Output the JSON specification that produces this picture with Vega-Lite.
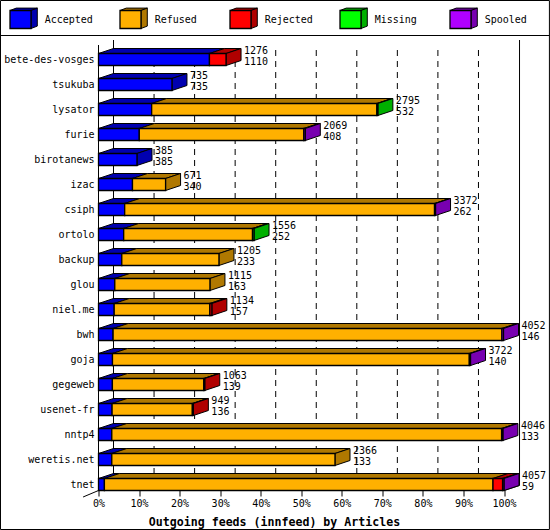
{
"$schema":"https://vega.github.io/schema/vega-lite/v6.json",
"width":405.5,"height":450,
"autosize":{"type":"none"},
"padding":{"left":98.5,"top":40,"right":46,"bottom":40},
"background":"white",
"config":{"view":{"stroke":null},"text":{"font":"DejaVu Sans Mono","fontSize":10,"color":"black"}},
"resolve":{"axis":{"x":"independent","y":"independent"}},
"datasets":{
"feeds":[
{"host":"bete-des-vosges","row":0,"total":1276,"Accepted":1110,"Refused":0,"Rejected":166,"Missing":0,"Spooled":0},
{"host":"tsukuba","row":1,"total":735,"Accepted":735,"Refused":0,"Rejected":0,"Missing":0,"Spooled":0},
{"host":"lysator","row":2,"total":2795,"Accepted":532,"Refused":2253,"Rejected":0,"Missing":10,"Spooled":0},
{"host":"furie","row":3,"total":2069,"Accepted":408,"Refused":1646,"Rejected":0,"Missing":0,"Spooled":15},
{"host":"birotanews","row":4,"total":385,"Accepted":385,"Refused":0,"Rejected":0,"Missing":0,"Spooled":0},
{"host":"izac","row":5,"total":671,"Accepted":340,"Refused":331,"Rejected":0,"Missing":0,"Spooled":0},
{"host":"csiph","row":6,"total":3372,"Accepted":262,"Refused":3100,"Rejected":0,"Missing":0,"Spooled":10},
{"host":"ortolo","row":7,"total":1556,"Accepted":252,"Refused":1289,"Rejected":0,"Missing":15,"Spooled":0},
{"host":"backup","row":8,"total":1205,"Accepted":233,"Refused":972,"Rejected":0,"Missing":0,"Spooled":0},
{"host":"glou","row":9,"total":1115,"Accepted":163,"Refused":952,"Rejected":0,"Missing":0,"Spooled":0},
{"host":"niel.me","row":10,"total":1134,"Accepted":157,"Refused":957,"Rejected":20,"Missing":0,"Spooled":0},
{"host":"bwh","row":11,"total":4052,"Accepted":146,"Refused":3890,"Rejected":0,"Missing":0,"Spooled":16},
{"host":"goja","row":12,"total":3722,"Accepted":140,"Refused":3570,"Rejected":0,"Missing":0,"Spooled":12},
{"host":"gegeweb","row":13,"total":1063,"Accepted":139,"Refused":914,"Rejected":10,"Missing":0,"Spooled":0},
{"host":"usenet-fr","row":14,"total":949,"Accepted":136,"Refused":803,"Rejected":10,"Missing":0,"Spooled":0},
{"host":"nntp4","row":15,"total":4046,"Accepted":133,"Refused":3900,"Rejected":0,"Missing":0,"Spooled":13},
{"host":"weretis.net","row":16,"total":2366,"Accepted":133,"Refused":2233,"Rejected":0,"Missing":0,"Spooled":0},
{"host":"tnet","row":17,"total":4057,"Accepted":59,"Refused":3888,"Rejected":96,"Missing":0,"Spooled":14}
],
"statuses":[
{"status":"Accepted","i":0},{"status":"Refused","i":1},{"status":"Rejected","i":2},{"status":"Missing","i":3},{"status":"Spooled","i":4}
],
"gridlines":[{"p":10},{"p":20},{"p":30},{"p":40},{"p":50},{"p":60},{"p":70},{"p":80},{"p":90}]
},
"layer":[
 {"data":{"values":[{"frame":1}]},"mark":{"type":"rect","fill":null,"stroke":"black","strokeWidth":1},
  "encoding":{"x":{"datum":-24.17,"type":"quantitative","axis":null,"scale":{"domain":[0,100],"nice":false,"zero":false}},"x2":{"datum":111.2},
   "y":{"datum":-2.36,"type":"quantitative","axis":null,"scale":{"domain":[17.22,-0.78],"nice":false,"zero":false}},"y2":{"datum":18.8}}},
 {"data":{"values":[{"frame":1}]},"mark":{"type":"rule","color":"black","strokeWidth":1},
  "encoding":{"x":{"datum":-24.17,"type":"quantitative","axis":null},"x2":{"datum":111.2},"y":{"datum":-0.96,"type":"quantitative","axis":null}}},
 {"data":{"values":[{"frame":1}]},"mark":{"type":"rule","color":"black","strokeWidth":1},
  "encoding":{"x":{"datum":0,"type":"quantitative","axis":{"values":[0,10,20,30,40,50,60,70,80,90,100],"labelExpr":"datum.value+'%'","labelFont":"DejaVu Sans Mono","labelFontSize":10,"labelColor":"black","labelPadding":2,"labelAngle":0,"labelFlush":false,"labelOverlap":false,"tickColor":"black","tickSize":6,"tickWidth":1,"domain":false,"grid":false,"title":"Outgoing feeds (innfeed) by Articles","titleFont":"DejaVu Sans Mono","titleFontSize":11.6,"titleFontWeight":"bold","titleColor":"black","titleX":175.5,"titleY":32,"titleBaseline":"middle"}},"y":{"datum":-0.58,"type":"quantitative","axis":null},"y2":{"datum":17.24}}},
 {"data":{"values":[{"frame":1}]},"mark":{"type":"rule","color":"black","strokeWidth":1},
  "encoding":{"x":{"datum":3.7,"type":"quantitative","axis":null},"y":{"datum":-0.78,"type":"quantitative","axis":null},"y2":{"datum":17.04}}},
 {"data":{"values":[{"frame":1}]},"mark":{"type":"rule","color":"black","strokeWidth":1},
  "encoding":{"x":{"datum":103.83,"type":"quantitative","axis":null},"y":{"datum":-0.78,"type":"quantitative","axis":null},"y2":{"datum":17.04}}},
 {"data":{"values":[{"frame":1}]},"mark":{"type":"rule","color":"black","strokeWidth":1},
  "encoding":{"x":{"datum":0,"type":"quantitative","axis":null},"x2":{"datum":-3.8},"y":{"datum":17.24,"type":"quantitative","axis":null},"y2":{"datum":17.5}}},
 {"data":{"values":[{"frame":1}]},"mark":{"type":"rule","color":"black","strokeWidth":1},
  "encoding":{"x":{"datum":103.83,"type":"quantitative","axis":null},"x2":{"datum":100},"y":{"datum":17.04,"type":"quantitative","axis":null},"y2":{"datum":17.24}}},
{"data":{"name":"gridlines"},
 "transform":[{"calculate":"datum.p+3.7","as":"xg"}],
 "mark":{"type":"rule","color":"black","strokeWidth":1,"strokeDash":[6,5]},
 "encoding":{"x":{"field":"xg","type":"quantitative","axis":null},"y":{"datum":-0.38,"type":"quantitative","axis":null},"y2":{"datum":17.04}}},
{"data":{"name":"feeds"},
 "transform":[
  {"fold":["Accepted","Refused","Rejected","Missing","Spooled"],"as":["status","articles"]},
  {"calculate":"indexof(['Accepted','Refused','Rejected','Missing','Spooled'],datum.status)","as":"ord"},
  {"stack":"articles","groupby":["host"],"sort":[{"field":"ord"}],"as":["a0","a1"]},
  {"calculate":"datum.total/4057*100*min(datum.a1/(datum.Accepted+datum.Refused+datum.Rejected+datum.Missing+datum.Spooled),1)","as":"x1"},
  {"calculate":"datum.total/4057*100*datum.a0/(datum.Accepted+datum.Refused+datum.Rejected+datum.Missing+datum.Spooled)","as":"x0"},
  {"filter":"datum.articles>0"},
  {"joinaggregate":[{"op":"max","field":"ord","as":"lastOrd"}],"groupby":["host"]},
  {"calculate":"datum.host+'|'+datum.status","as":"seg"},
  {"calculate":"datum.row-0.24","as":"yTop"},
  {"calculate":"datum.row+0.24","as":"yBot"},
  {"calculate":"datum.status+' dark'","as":"dark"},
  {"calculate":"[0,1]","as":"k"},
  {"flatten":["k"]},
  {"calculate":"datum.x0+datum.k*3.7","as":"tx0"},
  {"calculate":"datum.x1+datum.k*3.7","as":"tx1"},
  {"calculate":"datum.yTop-datum.k*0.2","as":"ty"},
  {"calculate":"datum.yBot-datum.k*0.2","as":"tyb"}
 ],
 "layer":[
 {"mark":{"type":"area","orient":"horizontal","stroke":"black","strokeWidth":1},
  "encoding":{"y":{"field":"ty","type":"quantitative","axis":null},"x":{"field":"tx0","type":"quantitative","axis":null,"stack":null},"x2":{"field":"tx1"},"detail":{"field":"seg"},
   "fill":{"field":"dark","type":"nominal","legend":null,"scale":{"domain":["Accepted","Refused","Rejected","Missing","Spooled","Accepted dark","Refused dark","Rejected dark","Missing dark","Spooled dark"],"range":["#0000ff","#ffb000","#ff0000","#00ff00","#b000ff","#0000b0","#b07800","#b00000","#00b000","#7800b0"]}}}},
 {"transform":[{"filter":"datum.ord==datum.lastOrd"}],
  "mark":{"type":"area","orient":"vertical","stroke":"black","strokeWidth":1},
  "encoding":{"x":{"field":"tx1","type":"quantitative","axis":null},"y":{"field":"ty","type":"quantitative","axis":null,"stack":null},"y2":{"field":"tyb"},"detail":{"field":"seg"},
   "fill":{"field":"dark","type":"nominal","legend":null}}},
 {"transform":[{"filter":"datum.k==0"}],
  "mark":{"type":"rect","stroke":"black","strokeWidth":1.3},
  "encoding":{"x":{"field":"x0","type":"quantitative","axis":null},"x2":{"field":"x1"},"y":{"field":"yTop","type":"quantitative","axis":null},"y2":{"field":"yBot"},
   "fill":{"field":"status","type":"nominal","legend":null}}},
 {"transform":[{"filter":"datum.k==0 && datum.ord==0"}],
  "mark":{"type":"text","align":"right","baseline":"middle","dx":-4},
  "encoding":{"x":{"datum":0,"type":"quantitative","axis":null},"y":{"field":"row","type":"quantitative","axis":null},"text":{"field":"host"}}},
 {"transform":[{"filter":"datum.k==0 && datum.ord==0"},{"calculate":"datum.total/4057*100+3.7","as":"lx"}],
  "mark":{"type":"text","align":"left","baseline":"middle","dx":3,"dy":-9},
  "encoding":{"x":{"field":"lx","type":"quantitative","axis":null},"y":{"field":"row","type":"quantitative","axis":null},"text":{"field":"total"}}},
 {"transform":[{"filter":"datum.k==0 && datum.ord==0"},{"calculate":"datum.total/4057*100+3.7","as":"lx"}],
  "mark":{"type":"text","align":"left","baseline":"middle","dx":3,"dy":2},
  "encoding":{"x":{"field":"lx","type":"quantitative","axis":null},"y":{"field":"row","type":"quantitative","axis":null},"text":{"field":"Accepted"}}}
 ]},
{"data":{"name":"statuses"},
 "transform":[
  {"calculate":"(10-98.5+110*datum.i)/4.055","as":"x0"},
  {"calculate":"datum.x0+21/4.055","as":"x1"},
  {"calculate":"datum.x0+34.7/4.055","as":"xt"},
  {"calculate":"datum.status+' dark'","as":"dark"},
  {"calculate":"[0,1]","as":"k"},
  {"flatten":["k"]},
  {"calculate":"datum.x0+datum.k*1.55","as":"tx0"},
  {"calculate":"datum.x1+datum.k*1.55","as":"tx1"},
  {"calculate":"-1.96-datum.k*0.096","as":"ty"},
  {"calculate":"-1.24-datum.k*0.096","as":"tyb"}
 ],
 "layer":[
 {"mark":{"type":"area","orient":"horizontal","stroke":"black","strokeWidth":1},
  "encoding":{"y":{"field":"ty","type":"quantitative","axis":null},"x":{"field":"tx0","type":"quantitative","axis":null,"stack":null},"x2":{"field":"tx1"},"detail":{"field":"status"},"fill":{"field":"dark","type":"nominal","legend":null}}},
 {"mark":{"type":"area","orient":"vertical","stroke":"black","strokeWidth":1},
  "encoding":{"x":{"field":"tx1","type":"quantitative","axis":null},"y":{"field":"ty","type":"quantitative","axis":null,"stack":null},"y2":{"field":"tyb"},"detail":{"field":"status"},"fill":{"field":"dark","type":"nominal","legend":null}}},
 {"transform":[{"filter":"datum.k==0"}],
  "mark":{"type":"rect","stroke":"black","strokeWidth":1.3},
  "encoding":{"x":{"field":"x0","type":"quantitative","axis":null},"x2":{"field":"x1"},"y":{"field":"ty","type":"quantitative","axis":null},"y2":{"field":"tyb"},"fill":{"field":"status","type":"nominal","legend":null}}},
 {"transform":[{"filter":"datum.k==0"}],
  "mark":{"type":"text","align":"left","baseline":"middle"},
  "encoding":{"x":{"field":"xt","type":"quantitative","axis":null},"y":{"datum":-1.58,"type":"quantitative","axis":null},"text":{"field":"status"}}}
 ]}
]
}
